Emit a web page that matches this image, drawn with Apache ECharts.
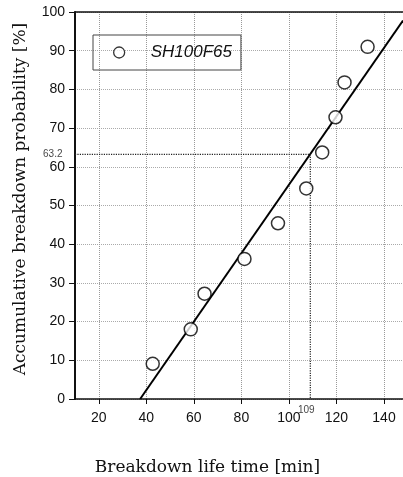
<!DOCTYPE html>
<html>
<head>
<meta charset="utf-8">
<script src="https://cdn.jsdelivr.net/npm/echarts@6/dist/echarts.min.js"></script>
<style>
  html, body { margin: 0; padding: 0; background: #fff; }
  #main { width: 403px; height: 477px; }
</style>
</head>
<body>
<div id="main"></div>
<script>
// measured breakdown times [min] and cumulative probability [%]
const lifeTime = [42.7, 58.7, 64.5, 81.3, 95.4, 107.3, 114, 119.6, 123.4, 133.1]
const probability = [9.1, 18.0, 27.2, 36.2, 45.4, 54.4, 63.7, 72.8, 81.8, 91.0]

// fitted line end points
const fitX = [37.4, 148]
const fitY = [0, 97.8]

// 63.2 % characteristic life guide
const guideX = [10, 109, 109]
const guideY = [63.2, 63.2, 0]

const xTicks = [20, 40, 60, 80, 100, 120, 140]
const seriesName = 'SH100F65'

const serif = '"DejaVu Serif", "Liberation Serif", serif'
const sans = '"Liberation Sans", Arial, sans-serif'

const chart = echarts.init(document.getElementById('main'))

const option = {
  animation: false,
  grid: {
    left: 75,
    right: 0,
    top: 12,
    bottom: 78,
    containLabel: false,
    outerBoundsMode: 'none'
  },
  legend: {
    data: [seriesName],
    left: 93,
    top: 35,
    padding: [9, 9, 9, 20],
    itemWidth: 11,
    itemHeight: 11,
    itemGap: 0,
    borderColor: '#444',
    borderWidth: 1,
    itemStyle: { color: '#fff', borderColor: '#000', borderWidth: 1.3 },
    textStyle: {
      fontFamily: sans,
      fontStyle: 'italic',
      fontSize: 17,
      color: '#111',
      padding: [0, 0, 0, 21]
    }
  },
  xAxis: [
    {
      type: 'value',
      min: 10,
      max: 148,
      name: 'Breakdown life time [min]',
      nameLocation: 'middle',
      nameGap: 60,
      nameTextStyle: {
        fontFamily: serif,
        fontSize: 17,
        color: '#111',
        padding: [0, 63, 0, 0]
      },
      axisLine: { lineStyle: { color: '#111', width: 1.5 } },
      axisTick: {
        customValues: xTicks,
        length: 5,
        lineStyle: { color: '#111' }
      },
      axisLabel: {
        customValues: xTicks,
        margin: 12,
        fontFamily: sans,
        fontSize: 14,
        color: '#111'
      },
      splitLine: {
        show: true,
        lineStyle: { type: 'dotted', color: '#999', width: 1 }
      }
    },
    {
      type: 'value',
      position: 'top',
      min: 10,
      max: 148,
      axisLine: { show: true, onZero: false, lineStyle: { color: '#111', width: 1.5 } },
      axisTick: { show: false },
      axisLabel: { show: false },
      splitLine: { show: false }
    }
  ],
  yAxis: {
    type: 'value',
    min: 0,
    max: 100,
    interval: 10,
    name: 'Accumulative breakdown probability [%]',
    nameLocation: 'middle',
    nameGap: 46,
    nameTextStyle: {
      fontFamily: serif,
      fontSize: 17,
      color: '#111',
      padding: [0, 0, 0, 13]
    },
    axisLine: { show: true, lineStyle: { color: '#111', width: 2 } },
    axisTick: { show: true, length: 6, lineStyle: { color: '#111' } },
    axisLabel: {
      margin: 10,
      fontFamily: sans,
      fontSize: 14,
      color: '#111'
    },
    splitLine: {
      show: true,
      lineStyle: { type: 'dotted', color: '#aaa', width: 1 }
    }
  },
  series: [
    {
      name: 'fit',
      type: 'line',
      symbol: 'none',
      silent: true,
      lineStyle: { color: '#000', width: 2 },
      data: fitX.map((x, i) => [x, fitY[i]])
    },
    {
      name: 'guide',
      type: 'line',
      symbol: 'none',
      silent: true,
      lineStyle: { color: '#222', width: 1.2, type: 'dotted' },
      data: guideX.map((x, i) => [x, guideY[i]])
    },
    {
      name: 'guideLabels',
      type: 'scatter',
      symbolSize: 1,
      silent: true,
      itemStyle: { color: 'transparent' },
      label: { show: true, fontFamily: sans, fontSize: 10, color: '#111' },
      data: [
        { value: [guideX[0], guideY[0]], label: { position: 'left', distance: 12, formatter: '63.2' } },
        { value: [guideX[2], guideY[2]], label: { position: 'bottom', distance: 6, formatter: '109', offset: [-4, 0] } }
      ]
    },
    {
      name: seriesName,
      type: 'scatter',
      symbol: 'circle',
      symbolSize: 13,
      itemStyle: { color: '#fff', borderColor: '#000', borderWidth: 1.5 },
      data: lifeTime.map((x, i) => [x, probability[i]]),
      z: 5
    }
  ]
}

chart.setOption(option)
</script>
</body>
</html>
